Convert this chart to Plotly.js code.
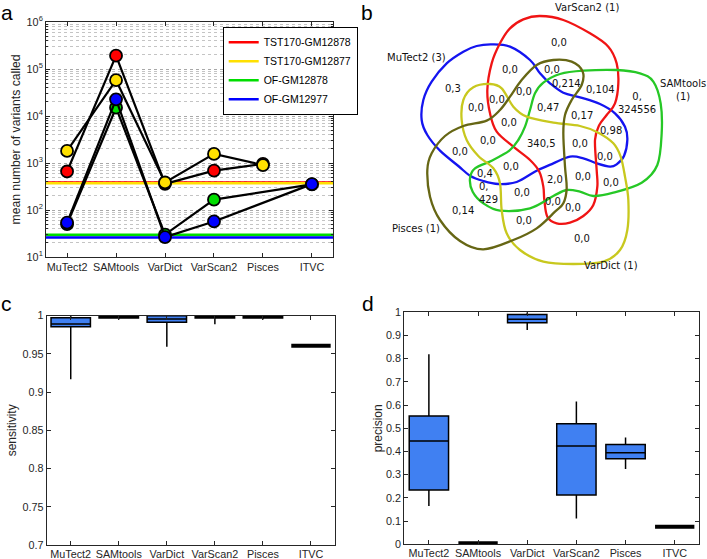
<!DOCTYPE html>
<html><head><meta charset="utf-8">
<script src="https://cdn.plot.ly/plotly-3.0.1.min.js"></script>
<style>html,body{margin:0;padding:0;background:#fff}#chart{width:707px;height:559px}</style>
</head><body><div id="chart"></div>
<script>
// ================= DATA =================
// panel a
const tools = ['MuTect2','SAMtools','VarDict','VarScan2','Pisces','ITVC'];
const seriesNames = ['TST170-GM12878','TST170-GM12877','OF-GM12878','OF-GM12977'];
const tst170Tools = ['MuTect2','SAMtools','VarDict','VarScan2','Pisces'];
const ofTools = ['MuTect2','SAMtools','VarDict','VarScan2','ITVC'];
const meanCalled_TST170_GM12878 = [660, 192000, 360, 690, 960];
const meanCalled_TST170_GM12877 = [1810, 57800, 385, 1560, 905];
const meanCalled_OF_GM12878 = [50, 15000, 30, 166, 350];
const meanCalled_OF_GM12977 = [54, 22600, 26.5, 57, 355];
const referenceCounts = [385, 372, 29.5, 26];
const yTickExponents = [1, 2, 3, 4, 5, 6];

// panel c (sensitivity)
const boxTools = ['MuTect2','SAMtools','VarDict','VarScan2','Pisces'];
const sens_lower  = [0.917, 0.995, 0.9594, 0.9887, 0.995];
const sens_q1     = [0.9856, 0.997, 0.9913, 0.997, 0.997];
const sens_median = [0.989, 0.999, 0.9956, 0.999, 0.999];
const sens_q3     = [0.9974, 1.0, 1.0, 1.0, 1.0];
const sens_upper  = [1.0, 1.0, 1.0, 1.0, 1.0];
const flatSensTools = ['ITVC'];
const flatSensValues = [0.9606];

// panel d (precision)
const precTools = ['MuTect2','VarDict','VarScan2','Pisces'];
const prec_lower  = [0.165, 0.924, 0.111, 0.325];
const prec_q1     = [0.234, 0.955, 0.213, 0.369];
const prec_median = [0.445, 0.970, 0.424, 0.395];
const prec_q3     = [0.553, 0.991, 0.520, 0.430];
const prec_upper  = [0.819, 1.0, 0.615, 0.460];
const flatPrecTools = ['SAMtools','ITVC'];
const flatPrecValues = [0.004, 0.076];

// panel b (Venn)
const vennSetNames  = ['MuTect2','VarScan2','SAMtools','VarDict','Pisces'];
const vennSetCounts = [3, 1, 1, 1, 1];
const vennRegionLabels = ['0,0','0,3','0,0','0,0','0,214','0,104','0,324556','0,0','0,0','0,0',
  '0,47','0,17','0,0','0,98','0,0','340,5','0,0','0,0','0,0','0,0',
  '0,4','2,0','0,0','0,0','0,429','0,0','0,0','0,0','0,14','0,0','0,0'];

// ================= GEOMETRY / STYLE =================
const seriesColors = ['#ff0000','#ffe000','#00dd00','#0000ff'];
const boxFill = 'rgb(64,128,242)';
const axisColor = '#262626';
const FONT = 'Liberation Sans, Arial, Helvetica, sans-serif';
const W = 707, H = 559;
const px = v => v / W, py = v => 1 - v / H;

const vennGeom = {
  outlines: {
    MuTect2: [[425,133],[480,140],[540,180],[570,220],[600,250],[640,278],[690,292],[750,312],[795,340],[825,380],[832,420],[822,468],[800,493],[780,500],[740,490],[700,475],[660,470],[610,490],[560,512],[500,546],[445,552],[400,543],[360,527],[325,498],[270,452],[232,405],[215,360],[220,300],[245,245],[290,190],[340,155],[380,138]],
    VarScan2: [[520,58],[570,48],[640,60],[720,100],[775,140],[800,190],[805,250],[795,310],[770,345],[748,375],[735,420],[740,510],[742,560],[730,615],[700,648],[660,668],[620,670],[592,650],[583,600],[580,560],[568,515],[540,480],[490,440],[440,395],[420,340],[412,270],[425,190],[450,130],[480,85]],
    SAMtools: [[580,248],[630,222],[700,212],[800,210],[870,220],[910,245],[932,310],[935,400],[922,495],[875,548],[790,578],[730,588],[690,575],[650,570],[610,588],[540,625],[450,632],[400,610],[368,575],[360,535],[375,505],[425,482],[478,452],[505,420],[525,380],[540,330],[555,280]],
    VarDict: [[420,252],[455,265],[490,320],[530,350],[610,368],[690,378],[745,398],[790,430],[812,470],[825,530],[835,600],[832,690],[810,750],[760,785],[670,792],[580,785],[510,750],[470,700],[455,630],[450,550],[430,505],[385,468],[350,420],[335,360],[340,300],[370,262]],
    Pisces: [[610,180],[665,185],[698,215],[695,255],[665,300],[645,345],[640,400],[645,500],[650,565],[640,610],[615,635],[560,685],[490,720],[400,748],[330,723],[270,660],[240,590],[232,510],[245,460],[285,408],[340,378],[410,362],[450,330],[480,290],[515,240],[560,195]]
  },
  colors: {MuTect2:'#1414f0', VarScan2:'#f01414', SAMtools:'#26c826', VarDict:'#c8c81e', Pisces:'#666614'},
  setLabelPos: [[198,172],[712,22],[1000,270],[782,797],[197,685]],
  setLabelWrap: [false,false,true,false,false],
  regionPos: [[628,127],[308,265],[480,208],[605,208],[650,251],[750,269],[862,310],[523,275],[378,322],[440,299],
    [595,322],[697,346],[478,367],[782,391],[415,421],[575,431],[690,429],[330,453],[766,470],[484,498],
    [406,521],[614,537],[700,530],[784,546],[416,580],[515,576],[610,605],[670,622],[340,630],[522,661],[695,716]],
  regionWrapAlign: {6:'center', 24:'left'}
};

function closedSplinePath(pts){
  const n = pts.length;
  let d = 'M' + pts[0][0] + ',' + pts[0][1];
  for (let i = 0; i < n; i++){
    const p0 = pts[(i-1+n)%n], p1 = pts[i], p2 = pts[(i+1)%n], p3 = pts[(i+2)%n];
    const c1 = [p1[0] + (p2[0]-p0[0])/6, p1[1] + (p2[1]-p0[1])/6];
    const c2 = [p2[0] - (p3[0]-p1[0])/6, p2[1] - (p3[1]-p1[1])/6];
    d += ' C' + c1[0].toFixed(1) + ',' + c1[1].toFixed(1) + ' ' + c2[0].toFixed(1) + ',' + c2[1].toFixed(1) + ' ' + p2[0] + ',' + p2[1];
  }
  return d + ' Z';
}

// ================= TRACES =================
const traces = [];
const aXRange = [0.57, 6.43];
const toolIndex = t => tools.indexOf(t) + 1;

// reference lines (legend entries)
seriesNames.forEach((nm, i) => {
  traces.push({type:'scatter', mode:'lines', name:nm, x:aXRange, y:[referenceCounts[i], referenceCounts[i]],
    line:{color:seriesColors[i], width:2.6}, xaxis:'x', yaxis:'y', hoverinfo:'skip'});
});
const seriesData = [
  [tst170Tools, meanCalled_TST170_GM12878],
  [tst170Tools, meanCalled_TST170_GM12877],
  [ofTools, meanCalled_OF_GM12878],
  [ofTools, meanCalled_OF_GM12977]
];
seriesData.forEach((s, i) => {
  traces.push({type:'scatter', mode:'lines+markers', name:seriesNames[i], showlegend:false,
    x:s[0].map(toolIndex), y:s[1], xaxis:'x', yaxis:'y', cliponaxis:false,
    line:{color:'#000', width:2.2},
    marker:{size:12, color:seriesColors[i], line:{color:'#000', width:1.8}}});
});

// panel c boxes
traces.push({type:'box', name:'sensitivity', x:boxTools, q1:sens_q1, median:sens_median, q3:sens_q3,
  lowerfence:sens_lower, upperfence:sens_upper, xaxis:'x2', yaxis:'y2', showlegend:false,
  fillcolor:boxFill, line:{color:'#000', width:1.5}, whiskerwidth:0, width:0.82, boxpoints:false});
traces.push({type:'box', name:'sensitivity ITVC', x:flatSensTools, q1:flatSensValues, median:flatSensValues, q3:flatSensValues,
  lowerfence:flatSensValues, upperfence:flatSensValues, xaxis:'x2', yaxis:'y2', showlegend:false,
  fillcolor:'#000', line:{color:'#000', width:4}, whiskerwidth:0, width:0.82, boxpoints:false});

// panel d boxes
traces.push({type:'box', name:'precision', x:precTools, q1:prec_q1, median:prec_median, q3:prec_q3,
  lowerfence:prec_lower, upperfence:prec_upper, xaxis:'x4', yaxis:'y4', showlegend:false,
  fillcolor:boxFill, line:{color:'#000', width:1.5}, whiskerwidth:0, width:0.8, boxpoints:false});
traces.push({type:'box', name:'precision flat', x:flatPrecTools, q1:flatPrecValues, median:flatPrecValues, q3:flatPrecValues,
  lowerfence:flatPrecValues, upperfence:flatPrecValues, xaxis:'x4', yaxis:'y4', showlegend:false,
  fillcolor:'#000', line:{color:'#000', width:4}, whiskerwidth:0, width:0.8, boxpoints:false});

// invisible anchor trace for the Venn axes
traces.push({type:'scatter', mode:'markers', name:'venn', x:[0], y:[0], xaxis:'x3', yaxis:'y3', showlegend:false,
  marker:{opacity:0}, hoverinfo:'skip'});

// ================= LAYOUT =================
const minorVals = [];
for (let k = 1; k < 6; k++) for (let m = 2; m <= 9; m++) minorVals.push(m * Math.pow(10, k));

const baseAxis = {showline:true, linecolor:axisColor, linewidth:1, mirror:'ticks', ticks:'inside',
  ticklen:4, tickcolor:axisColor, zeroline:false, fixedrange:true,
  tickfont:{family:FONT, size:10.8, color:axisColor}};

const shapes = vennSetNames.map(nm => ({type:'path', xref:'x3', yref:'y3', path:closedSplinePath(vennGeom.outlines[nm]),
  line:{color:vennGeom.colors[nm], width:2.3}, fillcolor:'rgba(0,0,0,0)', layer:'above'}));

const annotations = [];
const vfont = {family:'DejaVu Sans, sans-serif', size:10, color:'#111'};
vennSetNames.forEach((nm, i) => {
  const p = vennGeom.setLabelPos[i];
  annotations.push({xref:'x3', yref:'y3', x:p[0], y:p[1], showarrow:false, font:vfont,
    text: nm + (vennGeom.setLabelWrap[i] ? '<br>' : ' ') + '(' + vennSetCounts[i] + ')'});
});
vennRegionLabels.forEach((lab, i) => {
  const p = vennGeom.regionPos[i];
  const wrapAlign = vennGeom.regionWrapAlign[i];
  annotations.push({xref:'x3', yref:'y3', x:p[0], y:p[1], showarrow:false, font:vfont,
    align: wrapAlign || 'center', text: wrapAlign ? lab.replace(',', ',<br>') : lab});
});
// panel letters
[['a',6.5,0],['b',366.5,0],['c',6,291],['d',367.5,291]].forEach(l => {
  annotations.push({xref:'paper', yref:'paper', x:px(l[1]), y:py(l[2]), xanchor:'center', yanchor:'top',
    showarrow:false, text:l[0], font:{family:FONT, size:21, color:'#000'}, borderpad:0});
});

const layout = {
  width:W, height:H, margin:{l:0, r:0, t:0, b:0}, paper_bgcolor:'#fff', plot_bgcolor:'#fff',
  font:{family:FONT, color:axisColor},
  showlegend:true,
  legend:{x:px(222.7), y:py(26.7), xanchor:'left', yanchor:'top', bgcolor:'#fff', bordercolor:'#000', borderwidth:1,
    font:{family:FONT, size:10.5, color:'#000'}, itemwidth:30, tracegroupgap:0},
  xaxis: Object.assign({}, baseAxis, {domain:[px(46), px(333)], range:aXRange, tickvals:tools.map(toolIndex), ticktext:tools,
    showgrid:false, anchor:'y'}),
  yaxis: Object.assign({}, baseAxis, {domain:[py(257), py(22)], type:'log', range:[1, 6], anchor:'x',
    tickvals:yTickExponents.map(e => Math.pow(10, e)), ticktext:yTickExponents.map(e => '10<sup>' + e + '</sup>'),
    showgrid:true, gridcolor:'#a8a8a8', griddash:'dot', gridwidth:1,
    minor:{tickvals:minorVals, ticks:'inside', ticklen:2, tickcolor:axisColor, showgrid:true, gridcolor:'#c4c4c4', griddash:'dot', gridwidth:1},
    title:{text:'mean number of variants called', font:{family:FONT, size:12.2, color:axisColor}, standoff:3}}),
  xaxis2: Object.assign({}, baseAxis, {domain:[px(46.7), px(335)], type:'category', categoryorder:'array', categoryarray:tools,
    range:[-0.5, 5.5], showgrid:false, anchor:'y2', ticklabelstandoff:-1}),
  yaxis2: Object.assign({}, baseAxis, {domain:[py(545), py(315.7)], range:[0.7, 1], dtick:0.05, showgrid:false, anchor:'x2',
    title:{text:'sensitivity', font:{family:FONT, size:12, color:axisColor}, standoff:3}}),
  xaxis4: Object.assign({}, baseAxis, {domain:[px(404.3), px(699.3)], type:'category', categoryorder:'array', categoryarray:tools,
    range:[-0.5, 5.5], showgrid:false, anchor:'y4', ticklabelstandoff:-1}),
  yaxis4: Object.assign({}, baseAxis, {domain:[py(544.3), py(312.3)], range:[0, 1], dtick:0.1, showgrid:false, anchor:'x4',
    title:{text:'precision', font:{family:FONT, size:12, color:axisColor}, standoff:0}}),
  xaxis3: {domain:[px(350), 1], range:[0, 1071], visible:false, fixedrange:true, anchor:'y3'},
  yaxis3: {domain:[py(290), 1], range:[870, 0], visible:false, fixedrange:true, anchor:'x3'},
  shapes: shapes,
  annotations: annotations
};

Plotly.newPlot('chart', traces, layout, {displayModeBar:false, responsive:false});
</script></body></html>
